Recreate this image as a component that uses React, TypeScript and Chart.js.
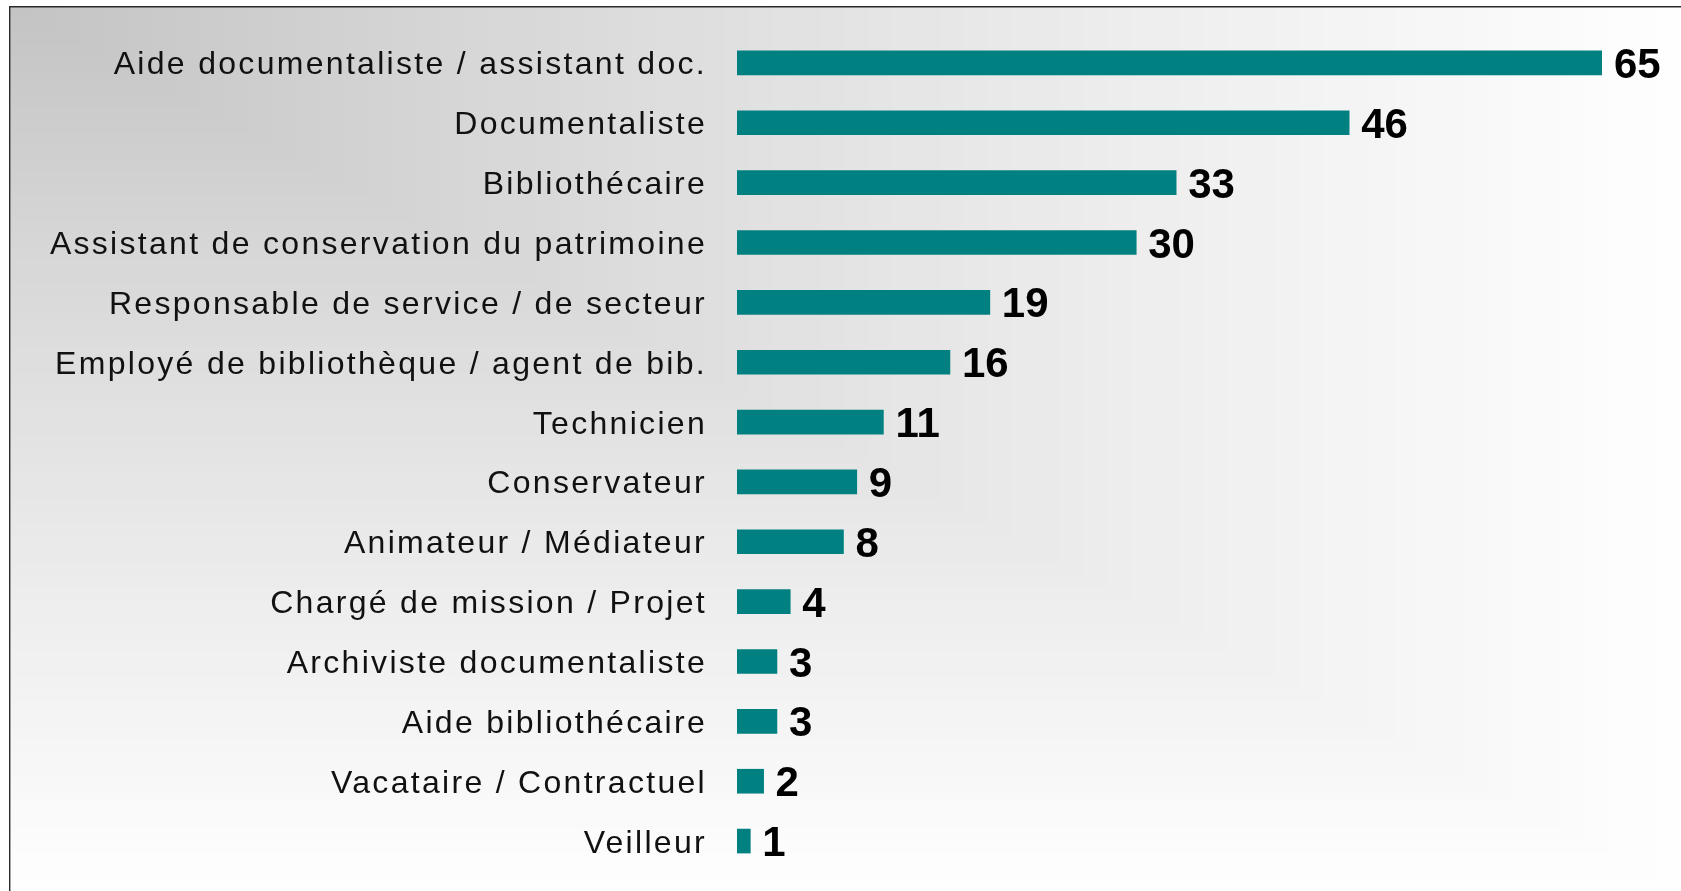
import React, { useEffect, useRef } from "react";
import { Chart, registerables } from "chart.js";

Chart.register(...registerables);

const categories: string[] = [
  "Aide documentaliste / assistant doc.",
  "Documentaliste",
  "Bibliothécaire",
  "Assistant de conservation du patrimoine",
  "Responsable de service / de secteur",
  "Employé de bibliothèque / agent de bib.",
  "Technicien",
  "Conservateur",
  "Animateur / Médiateur",
  "Chargé de mission / Projet",
  "Archiviste documentaliste",
  "Aide bibliothécaire",
  "Vacataire / Contractuel",
  "Veilleur",
];

const values: number[] = [65, 46, 33, 30, 19, 16, 11, 9, 8, 4, 3, 3, 2, 1];

const W = 1681;
const H = 891;

const backgroundPlugin = {
  id: "bgFrame",
  beforeDraw(chart: any) {
    const ctx = chart.ctx as CanvasRenderingContext2D;
    ctx.save();
    ctx.fillStyle = "#ffffff";
    ctx.fillRect(0, 0, W, H);
    const x0 = 9;
    const y0 = 6;
    const w = W - x0;
    const h = H - y0;
    const N = 70;
    for (let k = N; k >= 1; k--) {
      const t = k / N;
      const c = Math.round(194 + 60 * Math.pow(t, 0.85));
      ctx.fillStyle = `rgb(${c},${c},${c})`;
      ctx.fillRect(x0, y0, w * t, h * t);
    }
    ctx.fillStyle = "#2a2a2a";
    ctx.fillRect(x0, y0, w, 1.5);
    ctx.fillRect(x0, y0, 1.4, h);
    ctx.restore();
  },
};

const labelsPlugin = {
  id: "barLabels",
  afterDatasetsDraw(chart: any) {
    const ctx = chart.ctx as CanvasRenderingContext2D;
    const yScale = chart.scales.y;
    const meta = chart.getDatasetMeta(0);
    ctx.save();
    // category labels
    (ctx as any).letterSpacing = "2.3px";
    ctx.font = '32px "Liberation Sans", Arial, sans-serif';
    ctx.fillStyle = "#111111";
    ctx.textAlign = "right";
    ctx.textBaseline = "alphabetic";
    categories.forEach((lab, i) => {
      const y = yScale.getPixelForValue(i);
      ctx.fillText(lab, 707, y + 11.5);
    });
    // value labels
    (ctx as any).letterSpacing = "0px";
    ctx.font = 'bold 42px "Liberation Sans", Arial, sans-serif';
    ctx.fillStyle = "#000000";
    ctx.textAlign = "left";
    meta.data.forEach((bar: any, i: number) => {
      ctx.fillText(String(values[i]), bar.x + 12, bar.y + 15);
    });
    ctx.restore();
  },
};

export default function App() {
  const ref = useRef<HTMLCanvasElement | null>(null);

  useEffect(() => {
    document.body.style.margin = "0";
    document.body.style.overflow = "hidden";
    const canvas = ref.current;
    if (!canvas) return;
    const chart = new Chart(canvas, {
      type: "bar",
      data: {
        labels: categories,
        datasets: [
          {
            data: values,
            backgroundColor: "#008080",
            borderWidth: 0,
            barThickness: 24,
          },
        ],
      },
      options: {
        indexAxis: "y",
        responsive: false,
        animation: false,
        devicePixelRatio: 1,
        layout: { padding: { left: 737, right: 79, top: 33, bottom: 20 } },
        plugins: {
          legend: { display: false },
          tooltip: { enabled: false },
        },
        scales: {
          x: { display: false, min: 0, max: 65, grid: { display: false } },
          y: { display: false, grid: { display: false } },
        },
      },
      plugins: [backgroundPlugin, labelsPlugin],
    });
    return () => chart.destroy();
  }, []);

  return (
    <canvas
      ref={ref}
      width={W}
      height={H}
      style={{ display: "block", width: W, height: H }}
    />
  );
}
